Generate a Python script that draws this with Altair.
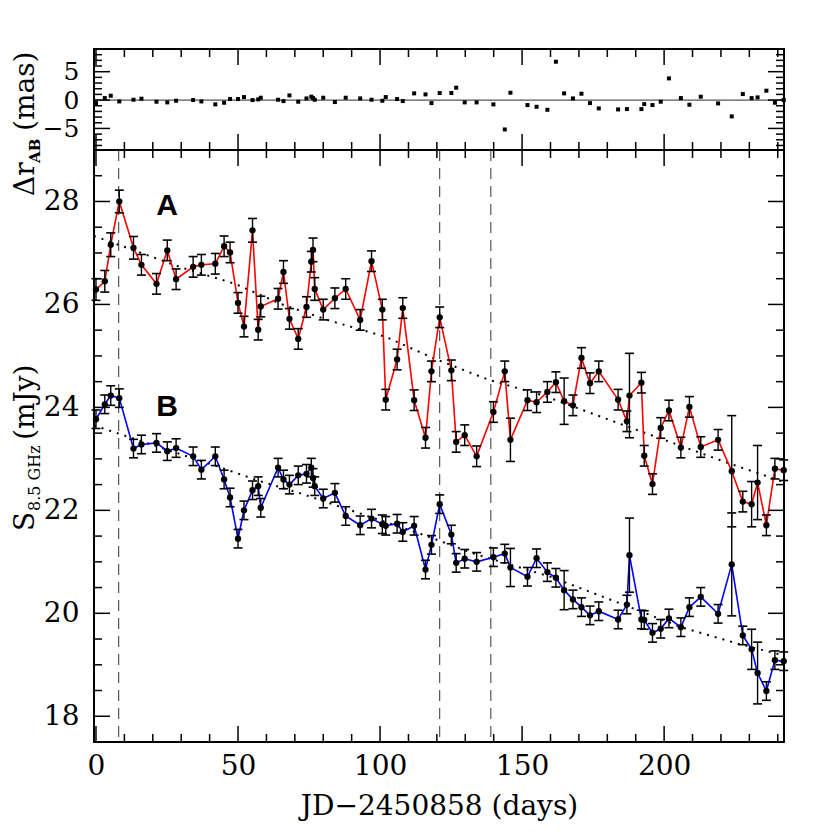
import altair as alt
import pandas as pd

# ---------------- data ----------------
days = [0.0, 3.1, 5.2, 8.2, 13.2, 16.0, 21.3, 25.1, 28.2, 34.2,
        37.1, 42.0, 45.1, 47.2, 50.0, 52.1, 55.1, 57.1, 58.0, 64.1,
        66.0, 68.1, 71.2, 74.1, 75.8, 76.4, 77.0, 80.0, 84.1, 87.9,
        93.0, 97.0, 100.8, 102.0, 106.0, 108.0, 112.0, 116.0, 118.1, 121.0,
        125.1, 126.8, 129.8, 134.0, 139.9, 143.9, 145.9, 151.9, 155.1, 158.9,
        161.9, 164.8, 167.9, 170.9, 173.9, 177.0, 183.8, 186.9, 187.8, 192.0,
        193.0, 195.9, 198.8, 201.7, 205.9, 208.9, 212.9, 219.0, 223.8, 227.7,
        230.8, 232.9, 236.0, 239.0, 242.1]

flux_a = [26.29, 26.45, 27.16, 28.00, 27.10, 26.77, 26.40, 27.05, 26.49, 26.73,
          26.77, 26.79, 27.13, 27.01, 26.03, 25.57, 27.44, 25.51, 25.96, 26.11,
          26.63, 25.72, 25.33, 25.95, 26.83, 27.06, 26.30, 25.90, 26.12, 26.30,
          25.70, 26.84, 25.90, 24.15, 24.93, 25.93, 24.14, 23.41, 24.70, 25.75,
          24.72, 23.33, 23.46, 23.05, 23.91, 24.70, 23.37, 24.14, 24.10, 24.30,
          24.49, 24.12, 24.04, 24.96, 24.47, 24.70, 24.15, 23.73, 24.23, 24.48,
          23.06, 22.51, 23.60, 23.94, 23.22, 24.01, 23.23, 23.37, 22.76, 22.17,
          22.12, 22.54, 21.71, 22.81, 22.78]

err_a = [0.21, 0.21, 0.23, 0.22, 0.22, 0.20, 0.20, 0.20, 0.20, 0.20,
         0.20, 0.20, 0.20, 0.20, 0.20, 0.20, 0.23, 0.20, 0.20, 0.20,
         0.22, 0.20, 0.20, 0.20, 0.20, 0.23, 0.22, 0.20, 0.20, 0.20,
         0.20, 0.20, 0.20, 0.20, 0.20, 0.20, 0.20, 0.20, 0.20, 0.20,
         0.20, 0.20, 0.20, 0.20, 0.20, 0.20, 0.42, 0.20, 0.20, 0.20,
         0.20, 0.45, 0.20, 0.20, 0.20, 0.20, 0.20, 0.20, 0.82, 0.20,
         0.20, 0.20, 0.20, 0.20, 0.20, 0.20, 0.20, 0.20, 1.08, 0.20,
         0.44, 0.72, 0.20, 0.20, 0.20]

flux_b = [23.77, 24.06, 24.23, 24.18, 23.20, 23.28, 23.31, 23.15, 23.21, 23.05,
          22.79, 23.05, 22.60, 22.25, 21.45, 22.00, 22.39, 22.47, 22.05, 22.83,
          22.60, 22.50, 22.68, 22.71, 22.83, 22.63, 22.47, 22.23, 22.34, 21.89,
          21.71, 21.84, 21.73, 21.70, 21.74, 21.58, 21.70, 20.85, 21.33, 22.12,
          21.53, 20.98, 21.06, 21.00, 21.09, 21.16, 20.89, 20.71, 21.07, 20.80,
          20.69, 20.45, 20.27, 20.12, 19.96, 20.04, 19.88, 20.17, 21.13, 19.88,
          19.87, 19.62, 19.70, 19.90, 19.73, 20.12, 20.32, 19.99, 20.95, 19.57,
          19.30, 18.84, 18.49, 19.09, 19.07]

err_b = [0.18, 0.18, 0.19, 0.18, 0.18, 0.18, 0.18, 0.18, 0.18, 0.18,
         0.18, 0.18, 0.18, 0.18, 0.18, 0.18, 0.18, 0.18, 0.18, 0.18,
         0.18, 0.18, 0.18, 0.18, 0.18, 0.18, 0.18, 0.18, 0.18, 0.18,
         0.18, 0.18, 0.18, 0.18, 0.18, 0.18, 0.18, 0.18, 0.18, 0.18,
         0.18, 0.18, 0.18, 0.18, 0.18, 0.18, 0.37, 0.18, 0.18, 0.18,
         0.18, 0.38, 0.18, 0.18, 0.18, 0.18, 0.18, 0.18, 0.72, 0.18,
         0.18, 0.18, 0.18, 0.18, 0.18, 0.18, 0.18, 0.18, 1.00, 0.18,
         0.39, 0.60, 0.18, 0.18, 0.18]

dr_ab = [-0.53, 0.35, 0.76, -0.24, 0.06, 0.24, -0.29, -0.41, -0.12, 0.00,
         -0.24, -0.76, -0.47, 0.18, 0.18, 0.53, 0.00, 0.12, 0.41, 0.06,
         -0.18, 0.82, -0.29, 0.29, 0.59, 0.35, 0.06, 0.41, -0.35, 0.41,
         0.29, 0.06, -0.12, 0.53, 0.18, -0.18, 1.18, 1.00, -0.53, 1.24,
         1.24, 2.18, -0.41, -0.41, -0.76, -5.18, 1.29, -0.88, -1.18, -1.71,
         6.76, 1.18, 0.29, 1.12, -0.53, -1.47, -1.65, -1.59, None, -1.59,
         -0.71, -0.88, -0.29, 3.82, 0.35, -0.82, 0.59, -0.59, -2.88, 1.06,
         0.35, 0.47, 1.65, -0.47, 0.00]

trend_days_a = [-0.7, 30, 49, 65, 82, 102, 119, 138, 157, 186, 223, 242.2]
trend_a = [27.33, 26.72, 26.40, 26.01, 25.69, 25.37, 24.95, 24.54, 24.24, 23.65, 22.91, 22.55]
trend_days_b = [-0.7, 44, 57, 72, 116, 133, 160, 187, 206, 226, 242.2]
trend_b = [23.65, 22.83, 22.58, 22.33, 21.51, 21.16, 20.71, 20.14, 19.73, 19.41, 19.18]

event_days = [8, 121, 139]

label_text = ["A", "B"]
label_day = [25, 25]
label_flux = [27.92, 24.0]

x_major = [0, 50, 100, 150, 200]
x_minor = [v for v in range(10, 241, 10) if v % 50 != 0]
y_main_major = [18, 20, 22, 24, 26, 28]
y_main_minor = [v / 2 for v in range(35, 59) if v % 4 != 0]
y_top_major = [-5, 0, 5]
y_top_minor = [v for v in range(-8, 10) if v % 5 != 0]

# ---------------- layout / style ----------------
W, H_TOP, H_MAIN = 690, 101, 592
FONT = "DejaVu Serif"
MAJ, MIN = 16, 8

x_scale = alt.Scale(domain=[-0.7, 242.2], nice=False, zero=False)
y_main_scale = alt.Scale(domain=[17.5, 29.0], nice=False, zero=False)
y_top_scale = alt.Scale(domain=[-8.8, 9.0], nice=False, zero=False)

x_axis_main = alt.Axis(values=x_major, labelPadding=10, labelFlush=False,
                       title="JD−2450858 (days)", titlePadding=12)
y_axis_main = alt.Axis(values=y_main_major, labelPadding=15, labelFlush=False, title=None)
y_axis_top = alt.Axis(values=y_top_major, labelPadding=15, labelFlush=False, title=None,
                      labelFontSize=25)


def XM(f):
    return alt.X(f, type="quantitative", scale=x_scale, axis=x_axis_main)


def XT(f):
    return alt.X(f, type="quantitative", scale=x_scale, axis=None)


def YM(f):
    return alt.Y(f, type="quantitative", scale=y_main_scale, axis=y_axis_main)


def YT(f):
    return alt.Y(f, type="quantitative", scale=y_top_scale, axis=y_axis_top)


def tick_layers(xfn, H):
    layers = []
    for vals, L in [(x_major, MAJ), (x_minor, MIN)]:
        d = pd.DataFrame({"v": vals})
        layers.append(alt.Chart(d).mark_rule(color="black", strokeWidth=1.5).encode(
            x=xfn("v"), y=alt.value(H), y2=alt.value(H - L)))
        layers.append(alt.Chart(d).mark_rule(color="black", strokeWidth=1.5).encode(
            x=xfn("v"), y=alt.value(0), y2=alt.value(L)))
    return layers


def ytick_layers(yfn, major, minor):
    layers = []
    for vals, L in [(major, MAJ), (minor, MIN)]:
        d = pd.DataFrame({"v": vals})
        layers.append(alt.Chart(d).mark_rule(color="black", strokeWidth=1.5).encode(
            y=yfn("v"), x=alt.value(0), x2=alt.value(L)))
        layers.append(alt.Chart(d).mark_rule(color="black", strokeWidth=1.5).encode(
            y=yfn("v"), x=alt.value(W), x2=alt.value(W - L)))
    return layers


def title_piece(txt, x, y, size, weight="normal"):
    return alt.Chart(pd.DataFrame({"t": [txt]})).mark_text(
        angle=270, align="left", baseline="alphabetic", font=FONT,
        fontSize=size, fontWeight=weight, color="black").encode(
        text="t:N", x=alt.value(x), y=alt.value(y))


# ---------------- top panel ----------------
top_df = pd.DataFrame({"day": days, "dr": dr_ab}).dropna()
zero_df = pd.DataFrame({"z": [0]})

top_layers = [
    alt.Chart(zero_df).mark_rule(color="#555555", strokeWidth=1.2).encode(y=YT("z")),
    alt.Chart(top_df).mark_square(size=16, color="black", opacity=1).encode(x=XT("day"), y=YT("dr")),
]
top_layers += tick_layers(XT, H_TOP)
top_layers += ytick_layers(YT, y_top_major, y_top_minor)
top_layers += [
    title_piece("Δr", -60, 147, 28),
    title_piece("AB", -54, 114, 15, "bold"),
    title_piece("(mas)", -60, 82, 28),
]
top = alt.layer(*top_layers).properties(width=W, height=H_TOP)

# ---------------- main panel ----------------
rows = []
for s, fv, ev in [("A", flux_a, err_a), ("B", flux_b, err_b)]:
    d = pd.DataFrame({"day": days, "flux": fv, "err": ev})
    d["series"] = s
    rows.append(d)
flux = pd.concat(rows, ignore_index=True)
flux["lo"] = flux["flux"] - flux["err"]
flux["hi"] = flux["flux"] + flux["err"]

trend = pd.concat([
    pd.DataFrame({"day": trend_days_a, "flux": trend_a, "series": "A"}),
    pd.DataFrame({"day": trend_days_b, "flux": trend_b, "series": "B"}),
], ignore_index=True)

events = pd.DataFrame({"day": event_days})
labels = pd.DataFrame({"text": label_text, "day": label_day, "flux": label_flux})

color = alt.Color("series:N", scale=alt.Scale(domain=["A", "B"], range=["#ff0000", "#0000ff"]), legend=None)

main_layers = [
    alt.Chart(events).mark_rule(color="#333333", strokeWidth=1, strokeDash=[11, 7]).encode(x=XM("day")),
    alt.Chart(trend).mark_line(color="black", strokeWidth=2, strokeDash=[2, 6]).encode(
        x=XM("day"), y=YM("flux"), detail="series:N"),
    alt.Chart(flux).mark_line(strokeWidth=1.6).encode(x=XM("day"), y=YM("flux"), color=color),
    alt.Chart(flux).mark_rule(color="black", strokeWidth=1.4).encode(x=XM("day"), y=YM("lo"), y2="hi"),
    alt.Chart(flux).mark_tick(orient="horizontal", size=9, thickness=1.6, color="black", opacity=1).encode(
        x=XM("day"), y=YM("lo")),
    alt.Chart(flux).mark_tick(orient="horizontal", size=9, thickness=1.6, color="black", opacity=1).encode(
        x=XM("day"), y=YM("hi")),
    alt.Chart(flux).mark_circle(size=40, color="black", opacity=1).encode(x=XM("day"), y=YM("flux")),
    alt.Chart(labels).mark_text(font="Liberation Sans", fontWeight="bold", fontSize=30,
                                align="center", baseline="middle", color="black").encode(
        x=XM("day"), y=YM("flux"), text="text:N"),
]
main_layers += tick_layers(XM, H_MAIN)
main_layers += ytick_layers(YM, y_main_major, y_main_minor)
main_layers += [
    title_piece("S", -60, 381, 28),
    title_piece("8.5 GHz", -54, 361, 16),
    title_piece("(mJy)", -60, 290, 28),
]
main = alt.layer(*main_layers).properties(width=W, height=H_MAIN)

chart = alt.vconcat(top, main, spacing=0, bounds="flush").properties(
    padding={"left": 3, "top": 39, "right": 10, "bottom": 5}
).configure_view(stroke="black", strokeWidth=2).configure_axis(
    grid=False, domain=False, ticks=False,
    labelFont=FONT, labelFontSize=28, labelColor="black",
    titleFont=FONT, titleFontSize=28, titleFontWeight="normal", titleColor="black",
)

chart.save("out.html", embed_options={"renderer": "svg", "actions": False})
